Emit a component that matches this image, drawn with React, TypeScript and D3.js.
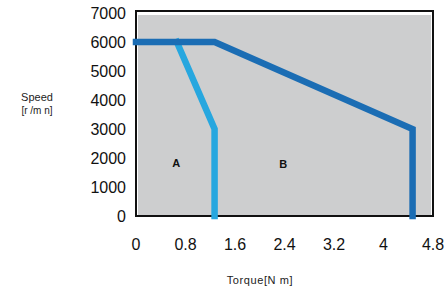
import React, { useRef, useEffect } from "react";
import * as d3 from "d3";

// curve A (light blue) and B (dark blue): torque [Nm], speed [r/min]
const curveATorque = [0.66, 1.27, 1.27];
const curveASpeed = [6000, 3000, 0];
const curveBTorque = [0, 1.27, 4.47, 4.47];
const curveBSpeed = [6000, 6000, 3000, 0];

const xTicks = [0, 0.8, 1.6, 2.4, 3.2, 4, 4.8];
const xTickLabels = ["0", "0.8", "1.6", "2.4", "3.2", "4", "4.8"];
const yTicks = [0, 1000, 2000, 3000, 4000, 5000, 6000, 7000];

const regionLabels = [
  { text: "A", torque: 0.65, speed: 1700 },
  { text: "B", torque: 2.38, speed: 1650 },
];

const App: React.FC = () => {
  const svgRef = useRef<SVGSVGElement>(null);
  const width = 448;
  const height = 289;

  useEffect(() => {
    if (!svgRef.current) return;
    const svg = d3.select(svgRef.current);
    svg.selectAll("*").remove();

    const margin = { top: 13, right: 15, bottom: 73, left: 136 };

    const x = d3
      .scaleLinear()
      .domain([0, 4.8])
      .range([margin.left, width - margin.right]);
    const y = d3
      .scaleLinear()
      .domain([0, 7000])
      .range([height - margin.bottom, margin.top]);

    // plot background + frame
    svg
      .append("rect")
      .attr("x", x(0))
      .attr("y", y(7000) - 2)
      .attr("width", x(4.8) - x(0))
      .attr("height", y(0) - y(7000) + 2)
      .attr("fill", "#ffffff")
      .attr("stroke", "#111")
      .attr("stroke-width", 2);
    svg
      .append("rect")
      .attr("x", x(0) + 2)
      .attr("y", y(7000) + 2)
      .attr("width", x(4.8) - x(0) - 4)
      .attr("height", y(0) - y(7000) - 3)
      .attr("fill", "#cdcecf");

    const line = d3
      .line<[number, number]>()
      .x((d) => x(d[0]))
      .y((d) => y(d[1]));

    const curveA = curveATorque.map((t, i) => [t, curveASpeed[i]] as [number, number]);
    const curveB = curveBTorque.map((t, i) => [t, curveBSpeed[i]] as [number, number]);

    svg
      .append("path")
      .datum(curveA)
      .attr("d", line)
      .attr("fill", "none")
      .attr("stroke", "#27a7df")
      .attr("stroke-width", 6.5)
      .attr("stroke-linecap", "square");

    svg
      .append("path")
      .datum(curveB)
      .attr("d", line)
      .attr("fill", "none")
      .attr("stroke", "#1b6db4")
      .attr("stroke-width", 6.5)
      .attr("stroke-linecap", "square");

    // region labels
    svg
      .selectAll(".region")
      .data(regionLabels)
      .enter()
      .append("text")
      .attr("class", "region")
      .attr("x", (d) => x(d.torque))
      .attr("y", (d) => y(d.speed))
      .attr("text-anchor", "middle")
      .attr("font-family", "Liberation Sans, Arial, sans-serif")
      .attr("font-weight", "bold")
      .attr("font-size", 11)
      .attr("fill", "#111")
      .text((d) => d.text);

    // y tick labels
    svg
      .selectAll(".ytick")
      .data(yTicks)
      .enter()
      .append("text")
      .attr("class", "ytick")
      .attr("x", 126)
      .attr("y", (d) => y(d) + 6)
      .attr("text-anchor", "end")
      .attr("font-family", "Liberation Sans, Arial, sans-serif")
      .attr("font-size", 16)
      .attr("fill", "#111")
      .text((d) => String(d));

    // x tick labels
    svg
      .selectAll(".xtick")
      .data(xTicks)
      .enter()
      .append("text")
      .attr("class", "xtick")
      .attr("x", (d) => x(d))
      .attr("y", 250)
      .attr("text-anchor", "middle")
      .attr("font-family", "Liberation Sans, Arial, sans-serif")
      .attr("font-size", 16)
      .attr("fill", "#111")
      .text((d, i) => xTickLabels[i]);

    // axis titles
    svg
      .append("text")
      .attr("x", 37)
      .attr("y", 101)
      .attr("text-anchor", "middle")
      .attr("font-family", "Liberation Sans, Arial, sans-serif")
      .attr("font-size", 11)
      .attr("fill", "#222")
      .text("Speed");
    svg
      .append("text")
      .attr("x", 37)
      .attr("y", 114)
      .attr("text-anchor", "middle")
      .attr("font-family", "Liberation Sans, Arial, sans-serif")
      .attr("font-size", 10)
      .attr("fill", "#222")
      .text("[r /m n]");
    svg
      .append("text")
      .attr("x", 260)
      .attr("y", 284)
      .attr("text-anchor", "middle")
      .attr("font-family", "Liberation Sans, Arial, sans-serif")
      .attr("font-size", 11)
      .attr("letter-spacing", 0.6)
      .attr("fill", "#222")
      .text("Torque[N m]");
  }, []);

  return (
    <svg
      ref={svgRef}
      width={width}
      height={height}
      style={{ position: "absolute", left: 0, top: 0, background: "#fff" }}
    ></svg>
  );
};

export default App;
